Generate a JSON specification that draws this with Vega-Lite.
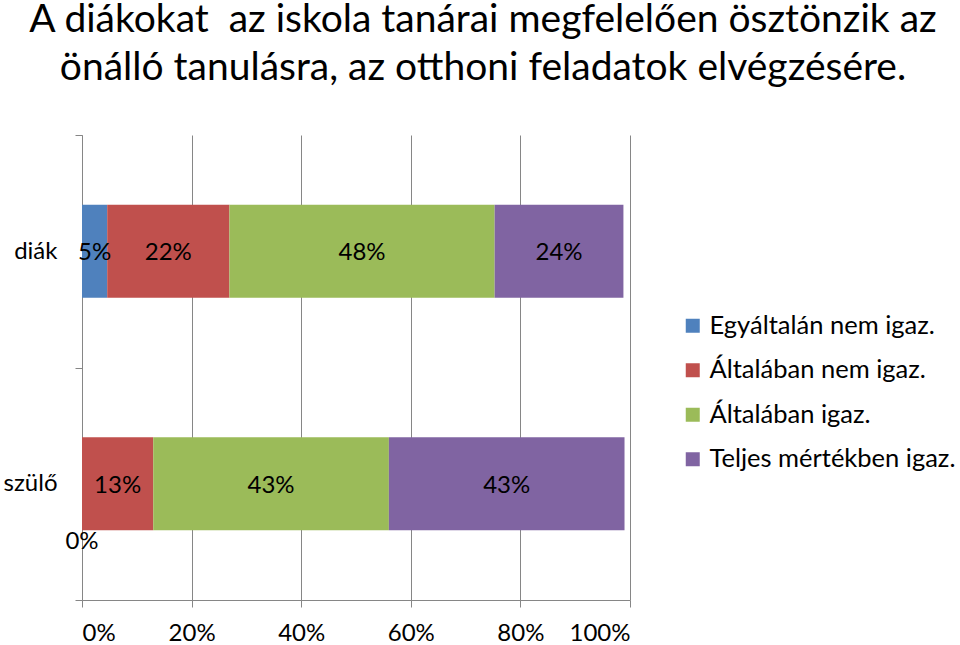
{
  "$schema": "https://vega.github.io/schema/vega-lite/v6.json",
  "width": 548,
  "height": 465,
  "autosize": "none",
  "padding": {"left": 82, "top": 135, "right": 330, "bottom": 45},
  "background": "white",
  "config": {
    "view": {"stroke": null},
    "font": "Lato"
  },
  "title": {
    "text": ["A diákokat\u00a0 az iskola tanárai megfelelően ösztönzik az", "önálló tanulásra, az otthoni feladatok elvégzésére."],
    "font": "Lato",
    "fontSize": 39,
    "fontWeight": "normal",
    "color": "black",
    "anchor": "middle",
    "dx": 127,
    "offset": 35,
    "lineHeight": 48
  },
  "data": {
    "values": [
      {"group": "diák", "category": "Egyáltalán nem igaz.", "order": 1, "value": 0.046},
      {"group": "diák", "category": "Általában nem igaz.", "order": 2, "value": 0.223},
      {"group": "diák", "category": "Általában igaz.", "order": 3, "value": 0.484},
      {"group": "diák", "category": "Teljes mértékben igaz.", "order": 4, "value": 0.235},
      {"group": "szülő", "category": "Egyáltalán nem igaz.", "order": 1, "value": 0.0},
      {"group": "szülő", "category": "Általában nem igaz.", "order": 2, "value": 0.13},
      {"group": "szülő", "category": "Általában igaz.", "order": 3, "value": 0.43},
      {"group": "szülő", "category": "Teljes mértékben igaz.", "order": 4, "value": 0.43}
    ]
  },
  "transform": [
    {"stack": "value", "groupby": ["group"], "sort": [{"field": "order", "order": "ascending"}], "as": ["start", "end"]},
    {"calculate": "(datum.start + datum.end) / 2", "as": "mid"}
  ],
  "encoding": {
    "y": {
      "field": "group",
      "type": "nominal",
      "scale": {"domain": ["diák", "szülő"], "paddingInner": 0, "paddingOuter": 0},
      "axis": {
        "title": null,
        "tickBand": "extent",
        "labelFontSize": 24,
        "labelColor": "black",
        "labelFont": "Lato",
        "domainColor": "#868686",
        "tickColor": "#868686",
        "tickSize": 7,
        "labelPadding": 18,
        "grid": false
      }
    }
  },
  "layer": [
    {
      "mark": {"type": "bar", "height": {"band": 0.4}},
      "encoding": {
        "x": {
          "field": "start",
          "type": "quantitative",
          "scale": {"domain": [0, 1], "nice": false},
          "axis": {
            "title": null,
            "format": ".0%",
            "values": [0, 0.2, 0.4, 0.6, 0.8, 1],
            "grid": true,
            "gridColor": "#868686",
            "domainColor": "#868686",
            "tickColor": "#868686",
            "tickSize": 7,
            "labelFontSize": 24,
            "labelColor": "black",
            "labelFont": "Lato",
            "labelPadding": 14
          }
        },
        "x2": {"field": "end"},
        "color": {
          "field": "category",
          "type": "nominal",
          "scale": {
            "domain": ["Egyáltalán nem igaz.", "Általában nem igaz.", "Általában igaz.", "Teljes mértékben igaz."],
            "range": ["#4F81BD", "#C0504D", "#9BBB59", "#8064A2"]
          },
          "legend": {
            "title": null,
            "orient": "none",
            "legendX": 598,
            "legendY": 178,
            "symbolType": "square",
            "symbolSize": 196,
            "symbolStrokeWidth": 0,
            "labelFontSize": 25.5,
            "labelFont": "Lato",
            "labelColor": "black",
            "labelOffset": 4,
            "labelLimit": 0,
            "rowPadding": 17.5,
            "padding": 0
          }
        }
      }
    },
    {
      "transform": [{"filter": "datum.value > 0"}],
      "mark": {"type": "text", "fontSize": 24, "font": "Lato", "color": "black", "baseline": "middle", "dy": 2},
      "encoding": {
        "x": {"field": "mid", "type": "quantitative"},
        "text": {"field": "value", "type": "quantitative", "format": ".0%"}
      }
    },
    {
      "transform": [{"filter": "datum.value == 0"}],
      "mark": {"type": "text", "fontSize": 24, "font": "Lato", "color": "black", "baseline": "middle", "dy": 58},
      "encoding": {
        "x": {"field": "mid", "type": "quantitative"},
        "text": {"field": "value", "type": "quantitative", "format": ".0%"}
      }
    }
  ]
}
